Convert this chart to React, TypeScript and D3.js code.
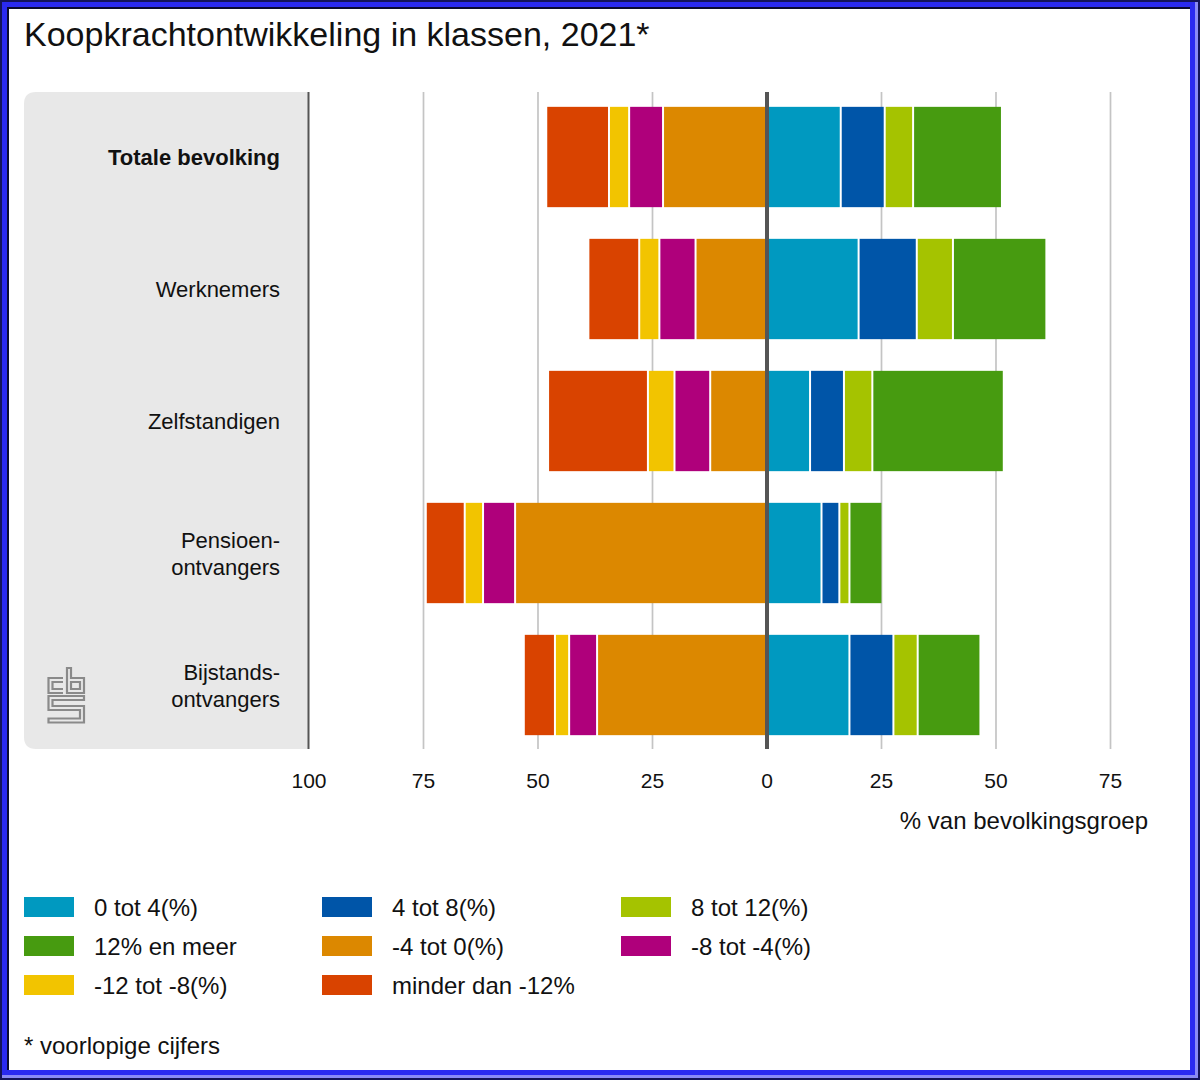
import React from "react";
import * as d3 from "d3";

const categories = [
  "Totale bevolking",
  "Werknemers",
  "Zelfstandigen",
  "Pensioen-\nontvangers",
  "Bijstands-\nontvangers",
];

// share of population (%) per purchasing-power class
const p0to4 = [16.1, 20.0, 9.4, 11.9, 18.0];
const p4to8 = [9.6, 12.7, 7.4, 3.9, 9.6];
const p8to12 = [6.2, 7.9, 6.2, 2.2, 5.3];
const p12plus = [19.4, 20.4, 28.7, 7.2, 13.7];
const m4to0 = [22.7, 15.6, 12.4, 55.0, 37.1];
const m8to4 = [7.4, 7.9, 7.8, 7.0, 6.1];
const m12to8 = [4.4, 4.4, 5.8, 4.0, 3.1];
const mLess12 = [13.7, 11.1, 21.8, 8.5, 6.8];

const tickValues = [-100, -75, -50, -25, 0, 25, 50, 75];

const series = [
  { key: "0 tot 4(%)", values: p0to4, sign: 1, color: "#0099c0" },
  { key: "4 tot 8(%)", values: p4to8, sign: 1, color: "#0055a8" },
  { key: "8 tot 12(%)", values: p8to12, sign: 1, color: "#a5c300" },
  { key: "12% en meer", values: p12plus, sign: 1, color: "#479b10" },
  { key: "-4 tot 0(%)", values: m4to0, sign: -1, color: "#dc8800" },
  { key: "-8 tot -4(%)", values: m8to4, sign: -1, color: "#af007b" },
  { key: "-12 tot -8(%)", values: m12to8, sign: -1, color: "#f2c400" },
  { key: "minder dan -12%", values: mLess12, sign: -1, color: "#d94300" },
];

const FONT = "Arial, 'Liberation Sans', Helvetica, sans-serif";

export default function App() {
  const W = 1200;
  const H = 1080;
  const x = d3.scaleLinear().domain([-100, 100]).range([309, 1225]);
  const y = d3
    .scaleBand<number>()
    .domain(d3.range(categories.length))
    .range([91, 751])
    .paddingInner(0.24)
    .paddingOuter(0.12);

  const table = categories.map((c, i) => {
    const row: Record<string, number> = { idx: i };
    series.forEach((s) => (row[s.key] = s.sign * s.values[i]));
    return row;
  });
  const stacked = d3
    .stack<Record<string, number>>()
    .keys(series.map((s) => s.key))
    .offset(d3.stackOffsetDiverging)(table);

  const plotTop = 92;
  const plotBottom = 749;

  const legendCols = [24, 322, 621];
  const legendRows = [907, 946, 985];

  return (
    <svg
      width={W}
      height={H}
      style={{ position: "absolute", left: 0, top: 0 }}
      fontFamily={FONT}
    >
      {/* frame */}
      <rect x={0} y={0} width={W} height={H} fill="#14145a" />
      <rect x={2} y={2} width={1196} height={1076} fill="#8a8af5" />
      <rect x={2} y={2} width={1193} height={1073} fill="#2a2af0" />
      <rect x={7} y={7} width={1183} height={1063} fill="#0a0a30" />
      <rect x={9} y={9} width={1181} height={1061} fill="#ffffff" />

      {/* title */}
      <text x={24} y={46} fontSize={34} fill="#111">
        Koopkrachtontwikkeling in klassen, 2021*
      </text>

      {/* grey category panel */}
      <path
        d={`M${x(-100)},${plotTop} H36 Q24,${plotTop} 24,${plotTop + 12} V${plotBottom - 12} Q24,${plotBottom} 36,${plotBottom} H${x(-100)} Z`}
        fill="#e8e8e8"
      />

      {/* gridlines */}
      {tickValues
        .filter((t) => t !== 0 && t !== -100)
        .map((t) => (
          <line
            key={t}
            x1={x(t)}
            x2={x(t)}
            y1={plotTop}
            y2={plotBottom}
            stroke="#c4c4c4"
            strokeWidth={1.7}
          />
        ))}

      {/* bars */}
      {stacked.map((layer, si) =>
        layer.map((d, i) => {
          const x0 = x(Math.min(d[0], d[1]));
          const x1 = x(Math.max(d[0], d[1]));
          return (
            <rect
              key={`${si}-${i}`}
              x={x0 + 1}
              y={y(i)!}
              width={Math.max(0, x1 - x0 - 2)}
              height={y.bandwidth()}
              fill={series[si].color}
            />
          );
        })
      )}

      {/* panel right edge & zero line */}
      <line
        x1={x(-100) - 0.5}
        x2={x(-100) - 0.5}
        y1={plotTop}
        y2={plotBottom}
        stroke="#555"
        strokeWidth={2}
      />
      <line
        x1={x(0)}
        x2={x(0)}
        y1={plotTop}
        y2={plotBottom}
        stroke="#555"
        strokeWidth={4}
      />

      {/* category labels */}
      {categories.map((c, i) => {
        const lines = c.split("\n");
        const cy = y(i)! + y.bandwidth() / 2;
        return (
          <text
            key={c}
            x={280}
            textAnchor="end"
            fontSize={22}
            fontWeight={i === 0 ? "bold" : "normal"}
            fill="#111"
          >
            {lines.map((l, li) => (
              <tspan
                key={li}
                x={280}
                y={cy + 8 + (li - (lines.length - 1) / 2) * 27}
              >
                {l}
              </tspan>
            ))}
          </text>
        );
      })}

      {/* cbs logo */}
      <g fill="none" stroke="#8a8a8a" strokeWidth={2.2}>
        <path d="M63,678 H48.5 V693 H63 M63,682 H52.5 V689 H63" />
        <path d="M67,668 V693 H84 V678 H71 V668 Z M71,682 H80 V689 H71 Z" />
        <path d="M48.5,696 H84 V700 H52.5 V706 H84 V722.5 H48.5 V718.5 H80 V710 H48.5 Z" />
      </g>

      {/* tick labels */}
      {tickValues.map((t) => (
        <text
          key={t}
          x={x(t)}
          y={788}
          textAnchor="middle"
          fontSize={21}
          fill="#111"
        >
          {Math.abs(t)}
        </text>
      ))}
      <text x={1148} y={829} textAnchor="end" fontSize={24} fill="#111">
        % van bevolkingsgroep
      </text>

      {/* legend */}
      {series.map((s, i) => {
        const col = i % 3;
        const row = Math.floor(i / 3);
        const lx = legendCols[col];
        const ly = legendRows[row];
        return (
          <g key={s.key}>
            <rect x={lx} y={ly - 10} width={50} height={20} fill={s.color} />
            <text x={lx + 70} y={ly + 8.5} fontSize={24} fill="#111">
              {s.key}
            </text>
          </g>
        );
      })}

      <text x={24} y={1054} fontSize={24} fill="#111">
        * voorlopige cijfers
      </text>
    </svg>
  );
}
